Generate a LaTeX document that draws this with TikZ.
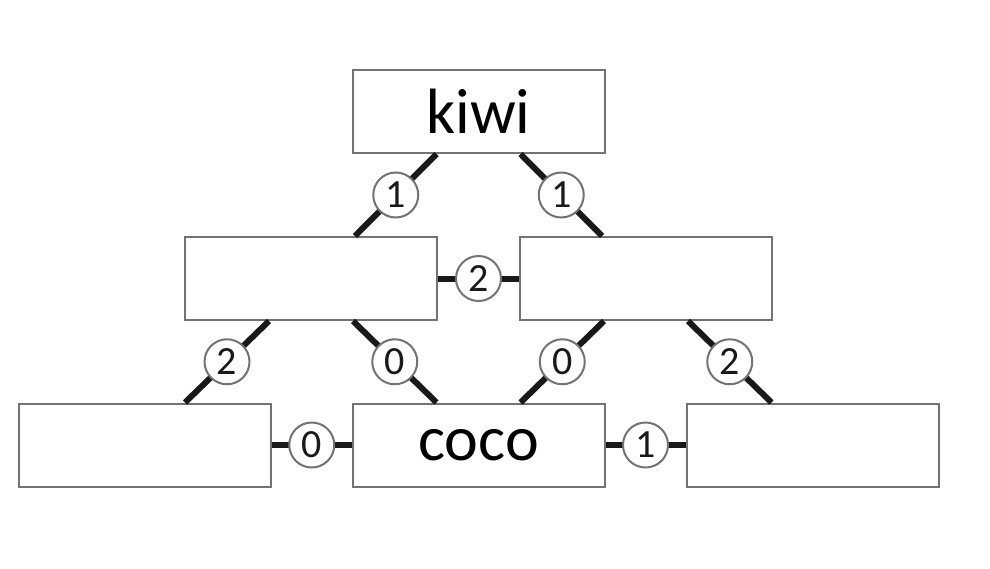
\documentclass[tikz,border=0pt]{standalone}
\usepackage{fontspec}
\setmainfont{Carlito}
\begin{document}
\begin{tikzpicture}[x=1pt,y=-1pt,
  box/.style={draw=black!55,line width=2pt,fill=white,minimum width=252pt,minimum height=83pt,inner sep=0pt,font=\fontsize{64}{64}\selectfont},
  edge/.style={line width=6pt,black!90},
  num/.style={circle,draw=black!55,line width=2pt,fill=white,minimum size=45pt,inner sep=0pt,font=\fontsize{40}{40}\selectfont}]
\useasboundingbox[fill=white] (0,0) rectangle (990,568);
\node[box] (kiwi) at (478.5,111.5) {kiwi};
\node[box] (l2) at (311,278.5) {};
\node[box] (r2) at (646,278.5) {};
\node[box] (l3) at (145,445) {};
\node[box] (coco) at (478.5,445) {coco};
\node[box] (r3) at (812.5,445) {};
\draw[edge] ([xshift=-42pt]kiwi.south) -- node[num]{1} ([xshift=44pt]l2.north);
\draw[edge] ([xshift=42pt]kiwi.south) -- node[num]{1} ([xshift=-44pt]r2.north);
\draw[edge] ([xshift=-42pt]l2.south) -- node[num]{2} ([xshift=40pt]l3.north);
\draw[edge] ([xshift=42pt]l2.south) -- node[num]{0} ([xshift=-42pt]coco.north);
\draw[edge] ([xshift=-42pt]r2.south) -- node[num]{0} ([xshift=42pt]coco.north);
\draw[edge] ([xshift=42pt]r2.south) -- node[num]{2} ([xshift=-41pt]r3.north);
\draw[edge] (l2.east) -- node[num]{2} (r2.west);
\draw[edge] (l3.east) -- node[num]{0} (coco.west);
\draw[edge] (coco.east) -- node[num]{1} (r3.west);
\end{tikzpicture}
\end{document}
